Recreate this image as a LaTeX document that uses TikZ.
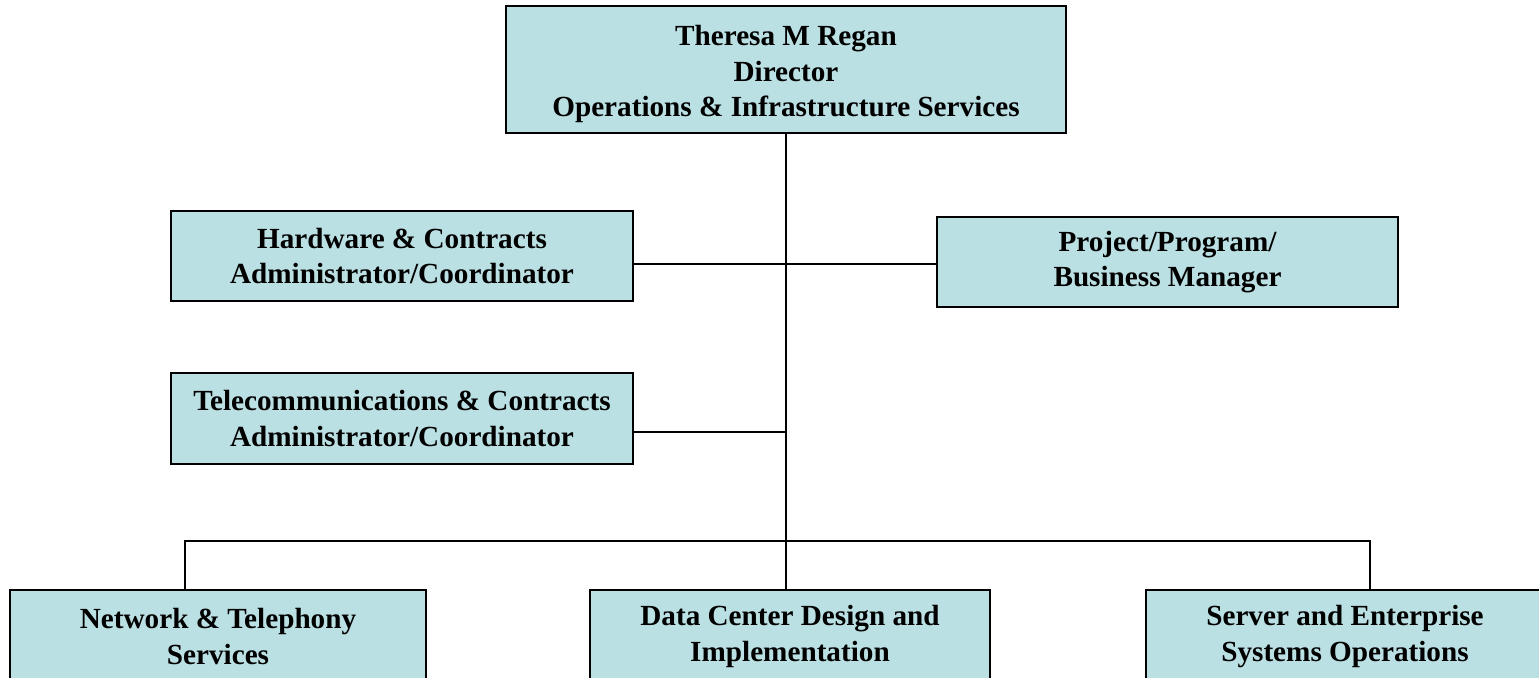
\documentclass[tikz,border=0pt]{standalone}
\usepackage{fontspec}
\setmainfont{Liberation Serif}
\usetikzlibrary{shadows}
\definecolor{boxfill}{RGB}{187,224,227}

\begin{document}
\begin{tikzpicture}[x=0.5pt, y=-0.5pt, line width=1.2pt]
  \tikzstyle{unit} = [draw, rectangle, fill=boxfill, line width=1.4pt, align=center, inner sep=0pt,
    font=\bfseries\fontsize{14.6}{17.8}\selectfont,
    drop shadow={shadow xshift=0.5pt, shadow yshift=-0.5pt, fill=black!50}]
  \tikzstyle{tmp} = [coordinate]
  \useasboundingbox (0,0) rectangle (1539,678);
  \node [unit, minimum width=280pt, minimum height=63.5pt] (director) at (786,69.5)
    {\rule{0pt}{15pt}Theresa M Regan\\Director\\Operations \& Infrastructure Services};
  \node [unit, minimum width=231pt, minimum height=45pt] (hardware) at (402,256)
    {Hardware \& Contracts\\Administrator/Coordinator};
  \node [unit, minimum width=230.5pt, minimum height=45pt] (project) at (1167.5,262)
    {Project/Program/\\Business Manager};
  \node [unit, minimum width=231pt, minimum height=45.5pt] (telecom) at (402,418.5)
    {Telecommunications \& Contracts\\Administrator/Coordinator};
  \node [unit, minimum width=208pt, minimum height=46.5pt] (network) at (218,636.5)
    {Network \& Telephony\\Services};
  \node [unit, minimum width=200pt, minimum height=46.5pt] (datacenter) at (790,636.5)
    {Data Center Design and\\Implementation};
  \node [unit, minimum width=199pt, minimum height=46.5pt] (server) at (1345,636.5)
    {Server and Enterprise\\Systems Operations};

  \node [tmp] (hwjoin) at (786,264) {};
  \node [tmp] (tcjoin) at (786,432) {};
  \node [tmp] (busleft) at (185,541) {};
  \node [tmp] (busright) at (1370,541) {};

  \draw (director.south) -- (director.south |- datacenter.north);
  \draw (hardware.east |- hwjoin) -- (project.west |- hwjoin);
  \draw (telecom.east |- tcjoin) -- (tcjoin);
  \draw (network.north -| busleft) -- (busleft) -- (busright) -- (server.north -| busright);
\end{tikzpicture}
\end{document}
